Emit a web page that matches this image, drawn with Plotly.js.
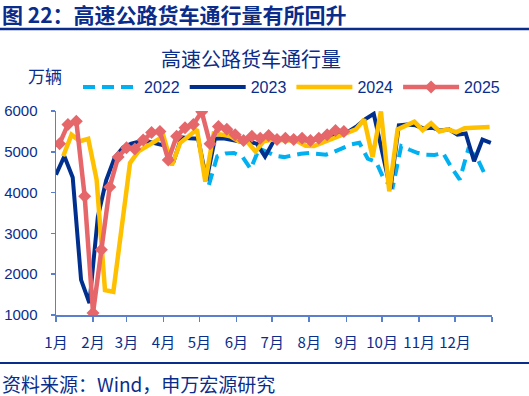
<!DOCTYPE html>
<html>
<head>
<meta charset="utf-8">
<script src="https://cdn.plot.ly/plotly-3.0.1.min.js"></script>
<style>html,body{margin:0;padding:0;background:#fff;}#chart{width:529px;height:396px;}</style>
</head>
<body>
<div id="chart"></div>
<script>
// ---- data ----
const monthLabels = ['1月','2月','3月','4月','5月','6月','7月','8月','9月','10月','11月','12月',''];
const monthStartDays = [0,31,59,90,120,151,181,212,243,273,304,334,365];
const seriesNames = ['2022','2023','2024','2025'];
// day of year of each series' first weekly observation
const firstDay2022 = 128;
const firstDay2023 = 0;
const firstDay2024 = 6;
const firstDay2025 = 3;
// weekly truck traffic, 万辆
const v2022 = [4190,4890,4960,4970,4880,4580,5080,5000,4900,4870,4920,4950,4970,4960,4930,5000,5100,5180,5220,4830,4750,4300,4150,5140,5050,4970,4930,4920,4970,4620,4320,5050,4880,4450];
const v2023 = [4440,4890,4370,1860,1295,3400,4300,4850,5100,5200,5250,5250,5200,5150,4730,5350,5330,5320,4300,5320,5330,5300,5250,5250,5200,4880,5250,5320,5300,5300,5280,5300,5350,5400,5450,5500,5630,5800,5930,4950,4080,5650,5670,5650,5570,5590,5520,5550,5420,5450,4770,5300,5220];
const v2024 = [4890,5420,5260,5320,4320,1610,1570,3170,4730,5010,5140,5260,5380,4670,5220,5380,5550,4270,5450,5420,5380,5260,5250,5010,5260,5300,5300,5280,5260,5150,5140,5220,5300,5380,5450,5550,5790,4870,5990,4030,5550,5650,5740,5530,5700,5500,5550,5480,5580,5590,5600,5610];
const v2025 = [5200,5670,5750,3910,1050,2600,4140,4870,5100,5070,5290,5470,5500,4800,5380,5590,5670,5980,5200,5620,5550,5420,5280,5380,5330,5400,5300,5330,5300,5330,5280,5330,5420,5520,5500];

function weekDays(first, n){ const a=[]; for(let i=0;i<n;i++) a.push(first+7*i); return a; }

const navy = '#0A2D8C';
const axisCol = '#5B7FCF';
const fontFam = 'Liberation Sans, Arial, Noto Sans CJK SC, sans-serif';
const cjkFam = 'Noto Sans CJK SC, Liberation Sans, sans-serif';

const traces = [
  {x: weekDays(firstDay2022, v2022.length), y: v2022, name: seriesNames[0], type:'scatter', mode:'lines',
   line:{color:'#00B0F0', width:4, dash:'12px,7px'}},
  {x: weekDays(firstDay2023, v2023.length), y: v2023, name: seriesNames[1], type:'scatter', mode:'lines',
   line:{color:'#002F8E', width:4}},
  {x: weekDays(firstDay2024, v2024.length), y: v2024, name: seriesNames[2], type:'scatter', mode:'lines',
   line:{color:'#FFC000', width:4.5}},
  {x: weekDays(firstDay2025, v2025.length), y: v2025, name: seriesNames[3], type:'scatter', mode:'lines+markers',
   line:{color:'#E5676A', width:4.5}, marker:{symbol:'diamond', size:10, color:'#E5676A'}}
];

const W=529, H=396, L=56, R=37, T=111, B=81;
const pw = W-L-R, ph = H-T-B;
const px = v => (v-L)/pw;
const py = v => (H-B-v)/ph;

const layout = {
  width: W, height: H,
  margin: {l:L, r:R, t:T, b:B, pad:0},
  paper_bgcolor:'#fff', plot_bgcolor:'#fff',
  showlegend: true,
  legend: {orientation:'h', x: px(78), y: py(87), xanchor:'left', yanchor:'middle',
    font:{family:fontFam, size:16, color:navy}, itemwidth:56, bgcolor:'rgba(0,0,0,0)'},
  xaxis: {range:[0,365], tickmode:'array', tickvals: monthStartDays, ticktext: monthLabels,
    showline:true, linecolor:axisCol, linewidth:1.5, ticks:'outside', ticklen:5, tickcolor:axisCol, tickwidth:1.5,
    showgrid:false, zeroline:false, tickfont:{family:cjkFam, size:15, color:navy}, ticklabelstandoff:8, fixedrange:true},
  yaxis: {range:[1000,6000], tickvals:[1000,2000,3000,4000,5000,6000],
    showline:true, linecolor:axisCol, linewidth:1.5, ticks:'outside', ticklen:4, tickcolor:axisCol, tickwidth:1.5,
    showgrid:false, zeroline:false, tickfont:{family:fontFam, size:15, color:navy}, ticklabelstandoff:10, fixedrange:true},
  shapes: [
    {type:'line', xref:'paper', yref:'paper', x0:px(0), x1:px(529), y0:py(29), y1:py(29), line:{color:'#0A2D8C', width:2.5}},
    {type:'line', xref:'paper', yref:'paper', x0:px(0), x1:px(529), y0:py(363), y1:py(363), line:{color:'#0A2D8C', width:2}}
  ],
  annotations: [
    {text:'<b>图 22：高速公路货车通行量有所回升</b>', xref:'paper', yref:'paper', x:px(0), y:py(14), xanchor:'left', yanchor:'middle', showarrow:false,
     font:{family:cjkFam, size:21, color:navy}},
    {text:'高速公路货车通行量', xref:'paper', yref:'paper', x:px(251), y:py(58), xanchor:'center', yanchor:'middle', showarrow:false,
     font:{family:cjkFam, size:20, color:navy}},
    {text:'万辆', xref:'paper', yref:'paper', x:px(45), y:py(75), xanchor:'center', yanchor:'middle', showarrow:false,
     font:{family:cjkFam, size:17, color:navy}},
    {text:'资料来源：Wind，申万宏源研究', xref:'paper', yref:'paper', x:px(0), y:py(383), xanchor:'left', yanchor:'middle', showarrow:false,
     font:{family:cjkFam, size:19, color:navy}}
  ]
};

Plotly.newPlot('chart', traces, layout, {displayModeBar:false, staticPlot:true});
</script>
</body>
</html>
